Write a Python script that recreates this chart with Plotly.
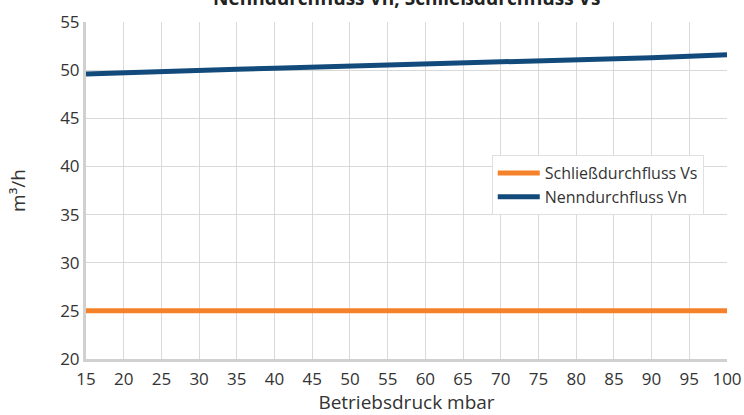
import plotly.graph_objects as go

pressure = [15, 20, 25, 30, 35, 40, 45, 50, 55, 60, 65, 70, 75, 80, 85, 90, 95, 100]
vs = [25.0] * 18
vn = [49.6, 49.75, 49.88, 50.0, 50.1, 50.2, 50.3, 50.4, 50.5, 50.6, 50.7, 50.8, 50.92, 51.05, 51.18, 51.3, 51.45, 51.6]
x_ticks = list(range(15, 101, 5))
y_ticks = list(range(20, 56, 5))

fig = go.Figure()
fig.add_trace(go.Scatter(x=pressure, y=vs, mode="lines", name="Schließdurchfluss Vs",
                         line=dict(color="#F5822A", width=5)))
fig.add_trace(go.Scatter(x=pressure, y=vn, mode="lines", name="Nenndurchfluss Vn",
                         line=dict(color="#124A7B", width=5)))

fig.update_layout(
    width=744, height=415,
    margin=dict(l=86, r=17, t=22, b=56, autoexpand=False),
    paper_bgcolor="white", plot_bgcolor="white",
    font=dict(family="Open Sans", size=16, color="#333333"),
    showlegend=True,
    legend=dict(x=0.633, y=0.605, xanchor="left", yanchor="top",
                bgcolor="white", bordercolor="#E0E0E0", borderwidth=1,
                itemwidth=42,
                font=dict(size=16, color="#333333"), tracegroupgap=2),
    annotations=[dict(text="<b>Nenndurchfluss Vn, Schließdurchfluss Vs</b>",
                      x=0.5, xref="paper", y=1, yref="paper", yanchor="bottom",
                      yshift=9, showarrow=False, font=dict(size=19, color="#222222"))],
)
fig.update_xaxes(range=[15, 100], tickvals=x_ticks, showgrid=True, gridcolor="#D9D9D9",
                 showline=True, linecolor="#D0D0D0", linewidth=3, ticks="",
                 ticklabelstandoff=3,
                 title=dict(text="Betriebsdruck mbar", font=dict(size=19), standoff=10),
                 tickfont=dict(size=17), zeroline=False, automargin=False)
fig.update_yaxes(range=[20, 55], tickvals=y_ticks, showgrid=True, gridcolor="#D9D9D9",
                 showline=True, linecolor="#D0D0D0", linewidth=3, ticks="",
                 title=dict(text="m³/h", font=dict(size=19), standoff=30),
                 tickfont=dict(size=17), zeroline=False, automargin=False)

fig.write_html("out.html", config={"displayModeBar": False},
               post_script="document.body.style.margin='0';document.body.style.overflow='hidden';")
